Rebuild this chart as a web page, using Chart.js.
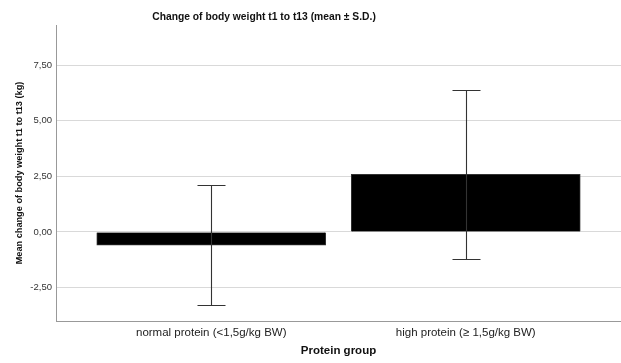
<!DOCTYPE html>
<html>
<head>
<meta charset="utf-8">
<script src="https://cdn.jsdelivr.net/npm/chart.js@4"></script>
<style>
  html, body { margin: 0; padding: 0; background: #fff; }
  #wrap { width: 621px; height: 363px; position: relative; }
</style>
</head>
<body>
<div id="wrap"><canvas id="c" width="621" height="363"></canvas></div>
<script>
const chartTitle = 'Change of body weight t1 to t13 (mean ± S.D.)';
const categories = ['normal protein (<1,5g/kg BW)', 'high protein (≥ 1,5g/kg BW)'];
const means = [-0.59, 2.59];
const sds = [2.71, 3.79];
const yTicks = [-2.5, 0, 2.5, 5, 7.5];
const yTitle = 'Mean change of body weight t1 to t13 (kg)';
const xTitle = 'Protein group';

const FONT = "'Liberation Sans', Arial, sans-serif";

const errorBars = {
  id: 'errorBars',
  afterDatasetsDraw(chart) {
    const ctx = chart.ctx;
    const xs = chart.scales.x, ys = chart.scales.y;
    ctx.save();
    ctx.strokeStyle = '#333';
    ctx.lineWidth = 1.1;
    means.forEach((m, i) => {
      const x = Math.round(xs.getPixelForValue(i)) + 0.5;
      const yt = Math.round(ys.getPixelForValue(m + sds[i])) + 0.5;
      const yb = Math.round(ys.getPixelForValue(m - sds[i])) + 0.5;
      ctx.beginPath();
      ctx.moveTo(x, yt); ctx.lineTo(x, yb);
      ctx.moveTo(x - 14, yt); ctx.lineTo(x + 14, yt);
      ctx.moveTo(x - 14, yb); ctx.lineTo(x + 14, yb);
      ctx.stroke();
    });
    ctx.restore();
  }
};

const titlePlugin = {
  id: 'topTitle',
  afterDraw(chart) {
    const ctx = chart.ctx;
    ctx.save();
    ctx.font = "bold 10.3px " + FONT;
    ctx.fillStyle = '#111';
    ctx.textAlign = 'center';
    ctx.textBaseline = 'middle';
    ctx.fillText(chartTitle, 264, 17);
    ctx.restore();
  }
};

new Chart(document.getElementById('c'), {
  type: 'bar',
  data: {
    datasets: [{
      data: means.map((m, i) => ({ x: i, y: m })),
      backgroundColor: '#000',
      borderColor: '#333',
      borderWidth: 1,
      barThickness: 229
    }]
  },
  plugins: [errorBars, titlePlugin],
  options: {
    responsive: false,
    animation: false,
    devicePixelRatio: 1,
    layout: { padding: { top: 25, right: 0, left: 0, bottom: 0 } },
    plugins: { legend: { display: false }, tooltip: { enabled: false }, title: { display: false } },
    scales: {
      x: {
        type: 'linear',
        offset: false,
        min: -0.61,
        max: 1.61,
        afterFit: s => { s.height = 42; },
        afterBuildTicks: s => { s.ticks = categories.map((_, i) => ({ value: i })); },
        grid: { display: false, drawTicks: false, offset: false },
        border: { display: true, color: '#999', width: 1 },
        ticks: {
          padding: 5,
          color: '#222',
          font: { family: FONT, size: 11.5 },
          maxRotation: 0,
          autoSkip: false,
          callback: v => categories[v] || ''
        },
        title: {
          display: true, text: xTitle, color: '#111',
          font: { family: FONT, size: 11.5, weight: 'bold' },
          padding: { top: 0, bottom: 5 }
        }
      },
      y: {
        min: -4.0,
        max: 9.3,
        afterFit: s => { s.width = 56; },
        afterBuildTicks: s => { s.ticks = yTicks.map(v => ({ value: v })); },
        grid: { color: '#d9d9d9', lineWidth: 1, drawTicks: false },
        border: { display: true, color: '#999', width: 1 },
        ticks: {
          padding: 4,
          color: '#333',
          font: { family: FONT, size: 9.5 },
          callback: v => v.toFixed(2).replace('.', ',')
        },
        title: {
          display: true, text: yTitle, color: '#111',
          font: { family: FONT, size: 9.2, weight: 'bold' },
          padding: { top: 14, bottom: 0 }
        }
      }
    }
  }
});
</script>
</body>
</html>
